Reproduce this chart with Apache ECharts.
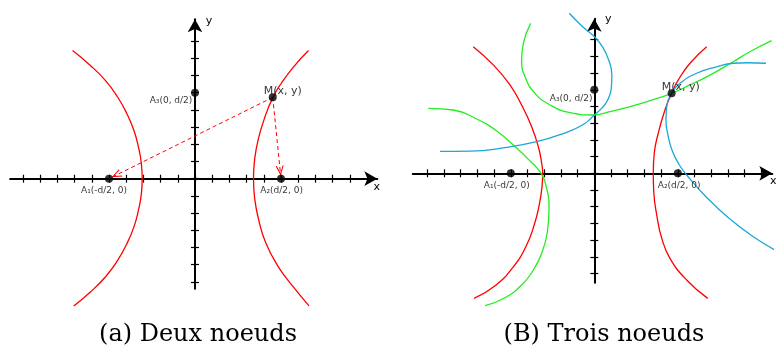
<!DOCTYPE html>
<html><head><meta charset="utf-8">
<script src="https://cdn.jsdelivr.net/npm/echarts@6/dist/echarts.min.js"></script>
<style>html,body{margin:0;padding:0;background:#fff}#c{width:779px;height:349px}</style>
</head><body><div id="c"></div>
<script>
// ---------- data (in tick units) ----------
const xTicks = [-10,-9,-8,-7,-6,-5,-4,-3,-2,-1,0,1,2,3,4,5,6,7,8,9,10];
const yTicks = [-6,-5,-4,-3,-2,-1,0,1,2,3,4,5,6,7,8];

const captionA = '(a) Deux noeuds';
const captionB = '(B) Trois noeuds';
const axisNames = ['x', 'y'];
const nodeLabels = ['A\u2081(-d/2, 0)', 'A\u2082(d/2, 0)', 'A\u2083(0, d/2)', 'M(x, y)'];

const nodesA = [[-5, 0], [5, 0], [0, 5], [4.52, 4.73]];
const nodesB = [[-5, 0], [5, 0], [0, 5], [4.63, 4.79]];

const redLeftA = [[-7.12,7.45],[-6.1,6.6],[-5.2,5.7],[-4.5,4.75],[-3.97,3.8],[-3.55,2.8],[-3.28,1.8],[-3.12,0.9],[-3.07,0],[-3.12,-0.9],[-3.28,-1.8],[-3.55,-2.8],[-3.97,-3.8],[-4.5,-4.75],[-5.2,-5.7],[-6.1,-6.6],[-7.05,-7.4]];
const redRightA = [[6.6,7.45],[5.73,6.5],[5.02,5.55],[4.53,4.73],[4.07,3.6],[3.68,2.3],[3.47,1.15],[3.40,0],[3.47,-1.15],[3.68,-2.3],[4.1,-3.7],[4.8,-5.05],[5.68,-6.25],[6.63,-7.39]];

const redLeftB = [[-7.25,7.58],[-6.05,6.49],[-5.05,5.29],[-4.3,3.99],[-3.75,2.79],[-3.35,1.59],[-3.15,0.60],[-3.09,0],[-3.13,-0.8],[-3.3,-1.9],[-3.6,-3.1],[-4.1,-4.4],[-4.85,-5.6],[-5.9,-6.7],[-7.2,-7.49]];
const redRightB = [[6.73,7.58],[5.73,6.59],[5.03,5.59],[4.63,4.79],[4.23,3.79],[3.83,2.40],[3.59,1.20],[3.53,0],[3.56,-1.10],[3.74,-2.50],[4.04,-3.89],[4.53,-5.09],[5.53,-6.39],[6.79,-7.49]];
const greenUpperB = [[-3.81,8.98],[-4.25,7.78],[-4.35,6.78],[-4.15,5.78],[-3.55,4.79],[-2.65,4.09],[-1.46,3.63],[-0.06,3.49],[0.94,3.69],[2.14,3.99],[3.34,4.35],[4.63,4.79],[5.73,5.29],[6.73,5.77],[8.32,6.68],[9.32,7.28],[10.62,7.94]];
const greenLowerB = [[-9.94,3.89],[-8.44,3.79],[-7.04,3.25],[-5.84,2.53],[-4.65,1.51],[-3.85,0.74],[-3.25,0.08],[-2.89,-0.76],[-2.71,-2.10],[-2.81,-3.50],[-3.15,-4.79],[-3.65,-5.79],[-4.35,-6.69],[-5.35,-7.45],[-6.54,-7.93]];
const cyanLeftB = [[-1.50,9.58],[-0.68,8.76],[0,8.19],[0.52,7.53],[0.86,6.78],[1.05,5.89],[1.02,5.11],[0.8,4.39],[0.45,3.9],[0,3.49],[-0.66,2.92],[-1.86,2.38],[-3.45,1.89],[-5.45,1.52],[-7.44,1.33],[-9.24,1.31]];
const cyanRightB = [[10.28,6.59],[9.13,6.62],[8.32,6.59],[7.33,6.38],[6.13,5.99],[5.13,5.39],[4.63,4.79],[4.35,4.09],[4.29,3.19],[4.41,2.29],[4.65,1.40],[5.03,0.60],[5.53,-0.10],[6.73,-1.45],[8.13,-2.74],[9.52,-3.80],[11.06,-4.73]];

// ---------- layout ----------
const RED = '#ff0000', GREEN = '#22ee22', CYAN = '#1aa8d6';
const panels = [
  { unit: 17.2, ox: 195, oy: 178.7, xMin: -10.75, xMax: 10.6, yMin: -6.4, yMax: 9.27,
    xNamePos: [376.7, 187.3], yNamePos: [209, 21.3],
    labelOffsets: [[-5, 11.8], [0.7, 11.8], [-24, 8.3], [10, -6.6]] },
  { unit: 16.7, ox: 594.3, oy: 173.3, xMin: -10.87, xMax: 10.66, yMin: -6.55, yMax: 9.26,
    xNamePos: [773.3, 180.7], yNamePos: [608.3, 18.7],
    labelOffsets: [[-4, 12.7], [1.4, 12.7], [-23.2, 8.4], [9.2, -6]] }
];

const grids = [], xAxes = [], yAxes = [], names = [];
panels.forEach((p, gi) => {
  grids.push({
    left: p.ox + p.xMin * p.unit, width: (p.xMax - p.xMin) * p.unit,
    top: p.oy - p.yMax * p.unit, height: (p.yMax - p.yMin) * p.unit,
    containLabel: false, outerBoundsMode: 'none', show: false
  });
  const base = gi * 2;
  ['bottom', 'top'].forEach((pos, k) => {
    xAxes.push({
      type: 'value', gridIndex: gi, position: pos, min: p.xMin, max: p.xMax,
      axisLine: { show: k === 0, onZero: true, onZeroAxisIndex: base,
        lineStyle: { color: '#000', width: 2 }, symbol: ['none', 'arrow'], symbolSize: [11, 13] },
      axisTick: { show: true, customValues: xTicks, length: 4, lineStyle: { color: '#000', width: 1.2 } },
      axisLabel: { show: false }, splitLine: { show: false }
    });
  });
  ['left', 'right'].forEach((pos, k) => {
    yAxes.push({
      type: 'value', gridIndex: gi, position: pos, min: p.yMin, max: p.yMax,
      axisLine: { show: k === 0, onZero: true, onZeroAxisIndex: base,
        lineStyle: { color: '#000', width: 2 }, symbol: ['none', 'arrow'], symbolSize: [11, 13] },
      axisTick: { show: true, customValues: yTicks, length: 4, lineStyle: { color: '#000', width: 1.2 } },
      axisLabel: { show: false }, splitLine: { show: false }
    });
  });
  [p.xNamePos, p.yNamePos].forEach((pt, k) => {
    names.push({ type: 'text', x: pt[0], y: pt[1], silent: true,
      style: { text: axisNames[k], font: '11px "DejaVu Sans"', fill: '#000', align: 'center', verticalAlign: 'middle' } });
  });
});

function curve(data, color, gi, extra) {
  return Object.assign({
    type: 'line', data, xAxisIndex: gi * 2, yAxisIndex: gi * 2,
    showSymbol: false, smooth: 0.5, clip: false, silent: true,
    lineStyle: { color, width: 1.3 }, z: 3
  }, extra || {});
}

function nodes(data, gi) {
  const p = panels[gi];
  return {
    type: 'scatter', xAxisIndex: gi * 2, yAxisIndex: gi * 2, clip: false, silent: true,
    symbol: 'circle', symbolSize: 8, itemStyle: { color: '#000' }, z: 10,
    data: data.map((v, i) => ({
      value: v,
      label: {
        show: true, position: 'inside', formatter: nodeLabels[i], offset: p.labelOffsets[i],
        fontFamily: 'DejaVu Sans', fontSize: i === 3 ? 11 : 9, color: '#000'
      }
    }))
  };
}

const chevron = 'path://M5,0L10,10L8.6,10L5,2.8L1.4,10L0,10Z';

const option = {
  animation: false,
  backgroundColor: '#fff',
  grid: grids, xAxis: xAxes, yAxis: yAxes,
  series: [
    curve(redLeftA, RED, 0),
    curve(redRightA, RED, 0, {
      markLine: {
        silent: true, symbol: ['none', chevron], symbolSize: [8, 10],
        symbolOffset: [[0, 0], [0, 8]],
        lineStyle: { type: [4, 3], color: RED, width: 1 }, label: { show: false },
        data: [[{ coord: nodesA[3] }, { coord: nodesA[0] }], [{ coord: nodesA[3] }, { coord: nodesA[1] }]]
      }
    }),
    nodes(nodesA, 0),
    curve(redLeftB, RED, 1),
    curve(redRightB, RED, 1),
    curve(greenUpperB, GREEN, 1),
    curve(greenLowerB, GREEN, 1),
    curve(cyanLeftB, CYAN, 1),
    curve(cyanRightB, CYAN, 1),
    nodes(nodesB, 1)
  ],
  graphic: names.concat([
    { type: 'text', x: 198, y: 335, silent: true, style: { text: captionA, font: '24px "DejaVu Serif"', fill: '#000', align: 'center', verticalAlign: 'middle' } },
    { type: 'text', x: 604, y: 335, silent: true, style: { text: captionB, font: '24px "DejaVu Serif"', fill: '#000', align: 'center', verticalAlign: 'middle' } }
  ])
};

const chart = echarts.init(document.getElementById('c'), null, { renderer: 'canvas' });
chart.setOption(option);
</script>
</body></html>
